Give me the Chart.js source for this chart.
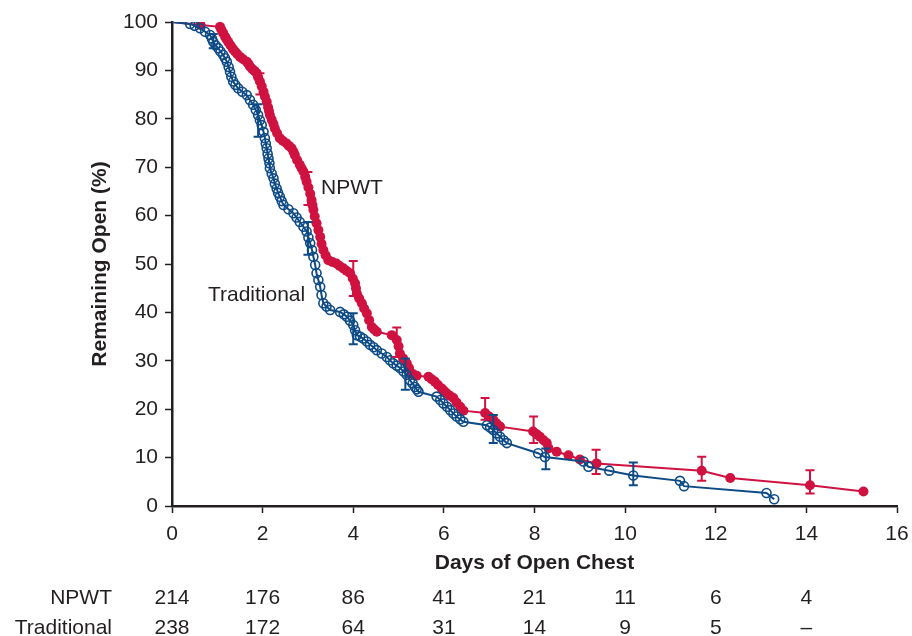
<!DOCTYPE html>
<html>
<head>
<meta charset="utf-8">
<script src="https://cdn.jsdelivr.net/npm/chart.js@4"></script>
<style>
  html, body { margin: 0; padding: 0; background: #ffffff; }
  #wrap { width: 912px; height: 636px; }
</style>
</head>
<body>
<div id="wrap"><canvas id="chart" width="912" height="636"></canvas></div>
<script>
// Kaplan-Meier style curves: percent of patients whose chest remains open
const npwtDays = [0, 0.63, 1.06, 1.09, 1.13, 1.17, 1.20, 1.24, 1.29, 1.34, 1.39, 1.44, 1.50, 1.57, 1.65, 1.69,
  1.72, 1.77, 1.82, 1.87, 1.90, 1.94, 1.98, 2.02, 2.05, 2.09, 2.12, 2.14, 2.16, 2.20, 2.24, 2.27, 2.32, 2.38,
  2.45, 2.53, 2.58, 2.64, 2.68, 2.71, 2.76, 2.82, 2.86, 2.90, 2.94, 2.97, 3.01, 3.05, 3.08, 3.10, 3.12, 3.15,
  3.19, 3.23, 3.27, 3.30, 3.34, 3.39, 3.45, 3.54, 3.63, 3.70, 3.78, 3.85, 3.93, 3.99, 4.04, 4.06, 4.08, 4.13,
  4.19, 4.24, 4.30, 4.35, 4.41, 4.46, 4.52, 4.85, 4.96, 5.00, 5.03, 5.10, 5.18, 5.23, 5.29, 5.34, 5.40, 5.66,
  5.73, 5.80, 5.87, 5.95, 6.00, 6.06, 6.13, 6.21, 6.28, 6.36, 6.43, 6.91, 7.00, 7.09, 7.16, 7.24, 7.97, 8.05,
  8.12, 8.20, 8.27, 8.31, 8.49, 8.75, 9.00, 9.37, 11.69, 12.32, 14.08, 15.26];
const npwtPct = [100, 99.4, 99.0, 98.4, 97.7, 97.0, 96.5, 95.9, 95.2, 94.5, 93.9, 93.4, 92.8, 92.3, 91.8, 91.3,
  90.8, 90.3, 89.9, 89.4, 88.6, 87.7, 86.7, 85.6, 84.6, 83.5, 82.4, 81.6, 80.8, 79.8, 78.9, 78.0, 77.0, 76.0,
  75.4, 74.9, 74.4, 73.9, 73.2, 72.5, 71.5, 70.5, 69.8, 69.1, 68.0, 67.0, 65.8, 64.5, 63.2, 62.2, 61.2, 59.8,
  58.4, 57.0, 55.6, 54.2, 52.9, 51.8, 50.8, 50.4, 50.1, 49.6, 49.1, 48.6, 48.1, 47.0, 46.0, 45.0, 43.9, 42.9,
  41.9, 40.8, 39.8, 38.4, 37.0, 36.5, 36.0, 35.3, 34.3, 33.0, 31.5, 30.5, 29.5, 28.5, 27.4, 27.1, 26.9, 26.7,
  26.2, 25.7, 25.0, 24.3, 23.8, 23.3, 22.8, 22.3, 21.4, 20.5, 19.7, 19.2, 18.5, 17.8, 17.1, 16.4, 15.4, 14.8,
  14.3, 13.6, 13.0, 11.9, 11.2, 10.5, 9.6, 8.8, 7.3, 5.8, 4.3, 3.0];

const tradDays = [0, 0.40, 0.50, 0.62, 0.73, 0.84, 0.88, 0.91, 0.96, 1.02, 1.07, 1.13, 1.17, 1.21, 1.25, 1.28,
  1.31, 1.35, 1.40, 1.46, 1.55, 1.65, 1.72, 1.79, 1.85, 1.90, 1.94, 1.98, 2.02, 2.05, 2.07, 2.09, 2.11, 2.13,
  2.15, 2.16, 2.20, 2.24, 2.27, 2.31, 2.34, 2.38, 2.42, 2.46, 2.57, 2.68, 2.75, 2.82, 2.90, 2.97, 3.01, 3.05,
  3.09, 3.12, 3.16, 3.19, 3.23, 3.27, 3.30, 3.34, 3.41, 3.49, 3.71, 3.79, 3.86, 3.93, 4.00, 4.04, 4.08, 4.15,
  4.22, 4.30, 4.37, 4.45, 4.52, 4.63, 4.74, 4.81, 4.88, 4.96, 5.03, 5.11, 5.18, 5.25, 5.31, 5.36, 5.40, 5.44,
  5.84, 5.92, 5.99, 6.07, 6.14, 6.21, 6.28, 6.36, 6.43, 6.95, 7.02, 7.09, 7.17, 7.24, 7.32, 7.39, 8.08, 8.23,
  9.08, 9.19, 9.65, 10.18, 11.21, 11.30, 13.12, 13.29];
const tradPct = [100, 99.6, 99.2, 98.7, 98.0, 97.3, 96.6, 95.9, 95.2, 94.6, 93.9, 93.2, 92.5, 91.8, 90.7, 89.7,
  88.7, 87.7, 87.0, 86.3, 85.6, 84.9, 83.9, 82.9, 81.8, 80.8, 79.7, 78.7, 77.3, 76.0, 74.9, 73.9, 72.8, 71.8,
  70.8, 69.8, 68.7, 67.7, 66.6, 65.6, 64.7, 63.9, 63.0, 62.2, 61.3, 60.5, 59.6, 58.7, 57.7, 56.7, 55.5, 54.3,
  52.9, 51.5, 49.8, 48.1, 46.7, 45.3, 43.6, 41.9, 41.2, 40.5, 40.1, 39.6, 39.1, 38.3, 37.4, 36.3, 35.3, 35.0,
  34.6, 34.0, 33.3, 32.8, 32.2, 31.5, 30.8, 30.1, 29.5, 29.0, 28.5, 27.8, 27.1, 26.0, 25.3, 24.6, 24.1, 23.6,
  22.6, 21.9, 21.2, 20.5, 19.8, 19.1, 18.5, 17.9, 17.4, 16.7, 16.2, 15.7, 15.0, 14.3, 13.6, 13.0, 10.9, 10.1,
  9.2, 8.1, 7.3, 6.3, 5.2, 4.1, 2.7, 1.4];

// Confidence intervals shown as vertical bars
const npwtErrDays = [1.94, 3.0, 4.0, 4.96, 6.91, 7.98, 9.36, 11.69, 14.08];
const npwtErrLow  = [85.0, 62.2, 43.4, 30.8, 17.8, 13.0, 6.6, 5.2, 2.6];
const npwtErrHigh = [89.4, 69.0, 50.6, 36.9, 22.3, 18.5, 11.6, 10.2, 7.4];

const tradErrDays = [0.91, 1.9, 3.0, 4.0, 5.15, 7.09, 8.25, 10.18];
const tradErrLow  = [94.6, 76.3, 51.9, 33.4, 24.0, 13.0, 7.6, 4.3];
const tradErrHigh = [97.5, 83.0, 58.7, 39.8, 30.5, 18.8, 11.9, 9.0];

// Numbers at risk below the axis
const riskDays = [0, 2, 4, 6, 8, 10, 12, 14];
const npwtAtRisk = ['214', '176', '86', '41', '21', '11', '6', '4'];
const tradAtRisk = ['238', '172', '64', '31', '14', '9', '5', '\u2013'];

const xTicks = [0, 2, 4, 6, 8, 10, 12, 14, 16];
const yTicks = [0, 10, 20, 30, 40, 50, 60, 70, 80, 90, 100];

const RED = '#cf1240';
const BLUE = '#0d4a86';
const INK = '#231f20';
const FONT = '"Liberation Sans", Arial, Helvetica, sans-serif';

const toPoints = (xs, ys) => xs.map((x, i) => ({ x: x, y: ys[i] }));

const errorBars = {
  id: 'errorBars',
  afterDatasetsDraw(chart) {
    const xs = chart.scales.x, ys = chart.scales.y, ctx = chart.ctx;
    const sets = [
      { days: npwtErrDays, lo: npwtErrLow, hi: npwtErrHigh, color: RED },
      { days: tradErrDays, lo: tradErrLow, hi: tradErrHigh, color: BLUE }
    ];
    ctx.save();
    ctx.lineWidth = 2;
    ctx.lineCap = 'butt';
    sets.forEach(s => {
      ctx.strokeStyle = s.color;
      s.days.forEach((d, i) => {
        const px = xs.getPixelForValue(d);
        const y1 = ys.getPixelForValue(s.lo[i]);
        const y2 = ys.getPixelForValue(s.hi[i]);
        ctx.beginPath();
        ctx.moveTo(px, y1); ctx.lineTo(px, y2);
        ctx.moveTo(px - 4.5, y1); ctx.lineTo(px + 4.5, y1);
        ctx.moveTo(px - 4.5, y2); ctx.lineTo(px + 4.5, y2);
        ctx.stroke();
      });
    });
    ctx.restore();
  }
};

const textLayer = {
  id: 'textLayer',
  afterDraw(chart) {
    const xs = chart.scales.x, ys = chart.scales.y, ctx = chart.ctx;
    const area = chart.chartArea;
    ctx.save();
    ctx.fillStyle = INK;

    // axis titles
    ctx.font = 'bold 21px ' + FONT;
    ctx.textAlign = 'center';
    ctx.textBaseline = 'middle';
    ctx.fillText('Days of Open Chest', (area.left + area.right) / 2, 563);
    ctx.save();
    ctx.translate(100, (area.top + area.bottom) / 2);
    ctx.rotate(-Math.PI / 2);
    ctx.fillText('Remaining Open (%)', 0, 0);
    ctx.restore();

    // curve labels
    ctx.font = '21px ' + FONT;
    ctx.textAlign = 'left';
    ctx.fillText('NPWT', xs.getPixelForValue(3.29), ys.getPixelForValue(65.7));
    ctx.textAlign = 'right';
    ctx.fillText('Traditional', xs.getPixelForValue(2.94), ys.getPixelForValue(43.6));

    // numbers at risk
    ctx.textAlign = 'right';
    ctx.fillText('NPWT', 112, 598);
    ctx.fillText('Traditional', 112, 628);
    ctx.textAlign = 'center';
    riskDays.forEach((d, i) => {
      const px = xs.getPixelForValue(d);
      ctx.fillText(npwtAtRisk[i], px, 598);
      ctx.fillText(tradAtRisk[i], px, 628);
    });
    ctx.restore();
  }
};

new Chart(document.getElementById('chart'), {
  type: 'line',
  data: {
    datasets: [
      {
        label: 'Traditional',
        data: toPoints(tradDays, tradPct),
        borderColor: BLUE,
        borderWidth: 2,
        backgroundColor: 'rgba(255,255,255,0)',
        pointBackgroundColor: 'rgba(255,255,255,0)',
        pointBorderColor: BLUE,
        pointBorderWidth: 1.6,
        pointRadius: tradDays.map((d, i) => i === 0 ? 0 : 4.5),
        tension: 0,
        fill: false,
        order: 0
      },
      {
        label: 'NPWT',
        data: toPoints(npwtDays, npwtPct),
        borderColor: RED,
        borderWidth: 2,
        backgroundColor: RED,
        pointBackgroundColor: RED,
        pointBorderColor: RED,
        pointBorderWidth: 0,
        pointRadius: npwtDays.map((d, i) => i === 0 ? 0 : 5),
        tension: 0,
        fill: false,
        order: 1
      }
    ]
  },
  options: {
    responsive: false,
    devicePixelRatio: 1,
    animation: false,
    layout: { padding: { left: 90, right: 15, top: 22, bottom: 0 } },
    plugins: { legend: { display: false }, tooltip: { enabled: false } },
    scales: {
      x: {
        type: 'linear',
        min: 0, max: 16,
        afterBuildTicks: s => { s.ticks = xTicks.map(v => ({ value: v })); },
        afterFit: s => { s.height = 130; s.paddingLeft = 0; s.paddingRight = 0; },
        border: { color: INK, width: 2.5 },
        grid: { drawOnChartArea: false, drawTicks: true, tickLength: 7, tickColor: INK, tickWidth: 1.5 },
        ticks: { color: INK, font: { family: FONT, size: 21 }, padding: 9, maxRotation: 0 }
      },
      y: {
        type: 'linear',
        min: 0, max: 100,
        afterBuildTicks: s => { s.ticks = yTicks.map(v => ({ value: v })); },
        afterFit: s => { s.width = 82; s.paddingTop = 0; s.paddingBottom = 0; },
        border: { color: INK, width: 2.5 },
        grid: { drawOnChartArea: false, drawTicks: true, tickLength: 7, tickColor: INK, tickWidth: 1.5 },
        ticks: { color: INK, font: { family: FONT, size: 21 }, padding: 7 }
      }
    }
  },
  plugins: [errorBars, textLayer]
});
</script>
</body>
</html>
